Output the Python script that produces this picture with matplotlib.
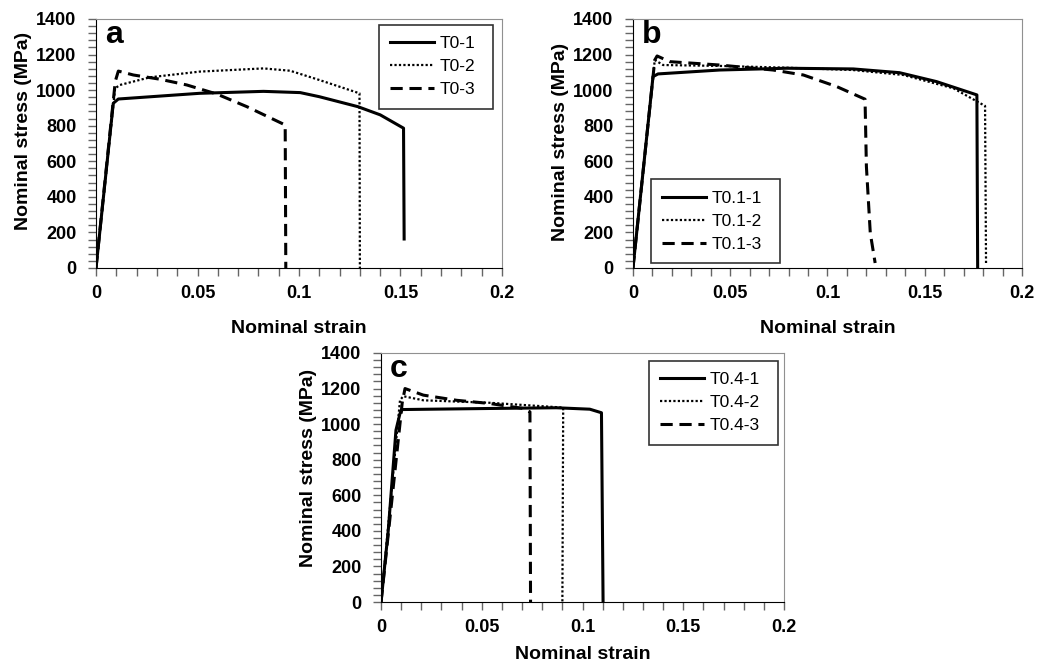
import matplotlib
matplotlib.use('Agg')
from matplotlib import pyplot as plt
from matplotlib.ticker import MultipleLocator

plt.rcParams['font.family'] = ['Liberation Sans', 'DejaVu Sans']

# panel a
a1_x = [0, 0.0085, 0.011, 0.051, 0.0825, 0.1006, 0.110, 0.129, 0.140, 0.1515, 0.1518]
a1_y = [0, 926, 950, 982, 993, 986, 963, 907, 861, 786, 163]
a2_x = [0, 0.0094, 0.0118, 0.0266, 0.051, 0.0825, 0.0956, 0.110, 0.1298, 0.130]
a2_y = [0, 1010, 1029, 1072, 1104, 1122, 1109, 1057, 982, 0]
a3_x = [0, 0.0095, 0.011, 0.0184, 0.0316, 0.0447, 0.0595, 0.0743, 0.0932, 0.0935]
a3_y = [0, 1050, 1107, 1085, 1061, 1029, 978, 907, 804, 0]

# panel b
b1_x = [0, 0.0103, 0.0129, 0.0446, 0.079, 0.1133, 0.137, 0.156, 0.1768, 0.1772]
b1_y = [0, 1076, 1091, 1113, 1123, 1119, 1098, 1048, 973, 0]
b2_x = [0, 0.0112, 0.0155, 0.0446, 0.079, 0.113, 0.139, 0.1648, 0.181, 0.1815]
b2_y = [0, 1169, 1141, 1136, 1126, 1113, 1085, 1010, 911, 28]
b3_x = [0, 0.0112, 0.0124, 0.0189, 0.0446, 0.072, 0.0876, 0.1047, 0.1193, 0.120, 0.122, 0.1245]
b3_y = [0, 1169, 1192, 1160, 1141, 1113, 1085, 1020, 949, 571, 196, 28]

# panel c
c1_x = [0, 0.0036, 0.0074, 0.0094, 0.0105, 0.054, 0.087, 0.1036, 0.1094, 0.1102]
c1_y = [0, 405, 966, 1060, 1082, 1088, 1092, 1084, 1064, 0]
c2_x = [0, 0.0094, 0.011, 0.021, 0.054, 0.0904, 0.090]
c2_y = [0, 1134, 1157, 1134, 1120, 1093, 0]
c3_x = [0, 0.0105, 0.0119, 0.021, 0.0375, 0.054, 0.0706, 0.0739, 0.0742]
c3_y = [0, 1120, 1200, 1163, 1134, 1116, 1088, 1069, 0]

labels_a = ['T0-1', 'T0-2', 'T0-3']
labels_b = ['T0.1-1', 'T0.1-2', 'T0.1-3']
labels_c = ['T0.4-1', 'T0.4-2', 'T0.4-3']

x_ticks = [0, 0.05, 0.1, 0.15, 0.2]
x_ticklabels = ['0', '0.05', '0.1', '0.15', '0.2']
y_ticks = [0, 200, 400, 600, 800, 1000, 1200, 1400]

styles = [
    dict(ls='-', lw=2.2),
    dict(ls=(0, (1, 1)), lw=1.6),
    dict(ls=(0, (4, 2.2)), lw=2.2),
]


def panel(ax, xs, ys, labels, letter, legend_loc, legend_box, xlabelpad, ylabel_y):
    for x, y, lab, st in zip(xs, ys, labels, styles):
        ax.plot(x, y, color='black', label=lab, solid_joinstyle='round', **st)
    ax.set_xlim(0, 0.2)
    ax.set_ylim(0, 1400)
    ax.set_xticks(x_ticks)
    ax.set_xticklabels(x_ticklabels)
    ax.set_yticks(y_ticks)
    ax.xaxis.set_minor_locator(MultipleLocator(0.01))
    ax.yaxis.set_minor_locator(MultipleLocator(40))
    ax.tick_params(which='both', direction='out', length=6, width=1, color='#666666')
    ax.tick_params(axis='x', which='major', labelsize=13, pad=6.5)
    ax.tick_params(axis='y', which='major', labelsize=13, pad=8)
    for t in ax.get_xticklabels() + ax.get_yticklabels():
        t.set_fontweight('bold')
    ax.spines['left'].set_color('black')
    ax.spines['bottom'].set_color('black')
    ax.spines['top'].set_color('#909090')
    ax.spines['right'].set_color('#909090')
    ax.set_xlabel('Nominal strain', fontsize=14, fontweight='bold', labelpad=xlabelpad)
    ax.set_ylabel('Nominal stress (MPa)', fontsize=14, fontweight='bold', labelpad=3)
    ax.yaxis.label.set_y(ylabel_y)
    ax.text(0.022, 0.995, letter, transform=ax.transAxes, fontsize=23,
            fontweight='bold', va='top', ha='left')
    leg = ax.legend(loc=legend_loc, bbox_to_anchor=legend_box, mode='expand',
                    fontsize=12.5, frameon=True, fancybox=False, edgecolor='black',
                    handlelength=2.5, handletextpad=0.35, labelspacing=0.45,
                    borderpad=0.65, borderaxespad=0)
    leg.get_frame().set_linewidth(1.2)


fig = plt.figure(figsize=(10.38, 6.63), dpi=100)
ax_a = fig.add_axes([0.0925, 0.5958, 0.3911, 0.3756])
ax_b = fig.add_axes([0.6098, 0.5958, 0.3748, 0.3756])
ax_c = fig.add_axes([0.3671, 0.0920, 0.3882, 0.3756])

panel(ax_a, [a1_x, a2_x, a3_x], [a1_y, a2_y, a3_y], labels_a, 'a',
      'upper right', (0.697, 0.643, 0.281, 0.333), 13, 0.55)
panel(ax_b, [b1_x, b2_x, b3_x], [b1_y, b2_y, b3_y], labels_b, 'b',
      'lower left', (0.046, 0.02, 0.332, 0.337), 13, 0.505)
panel(ax_c, [c1_x, c2_x, c3_x], [c1_y, c2_y, c3_y], labels_c, 'c',
      'upper right', (0.665, 0.631, 0.320, 0.337), 7, 0.54)

fig.savefig('out.png', dpi=100)
